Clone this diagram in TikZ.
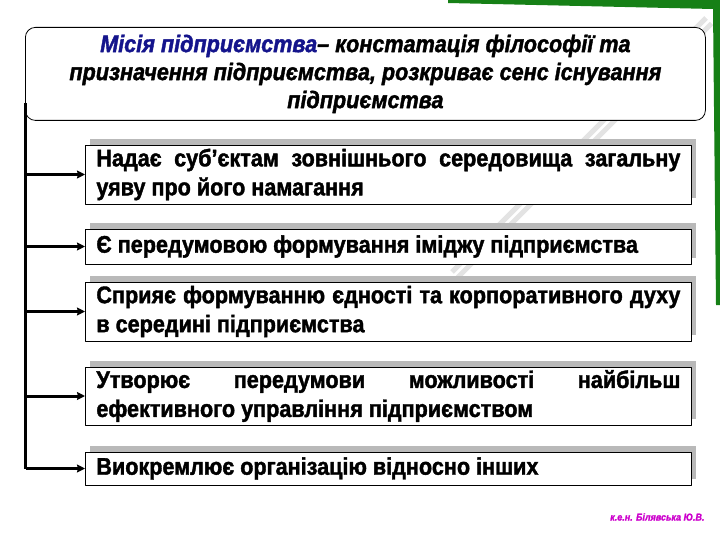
\documentclass[tikz,border=0pt]{standalone}
\usepackage{fontspec}
\setmainfont{Liberation Sans}[BoldFont={Liberation Sans Bold}, BoldItalicFont={Liberation Sans Bold Italic},
  FakeStretch=0.9, FakeBold=1.6]
\usetikzlibrary{shadows,arrows.meta}
\definecolor{misblue}{RGB}{20,20,140}
\definecolor{slidegreen}{RGB}{22,128,22}
\definecolor{authmag}{RGB}{204,0,204}
\tikzset{
  itembox/.style={draw, line width=0.8pt, fill=white, anchor=west,
    text width=584pt, inner xsep=11pt, inner ysep=2pt, align=justify,
    font=\fontsize{24}{29}\selectfont\bfseries,
    drop shadow={shadow xshift=5pt, shadow yshift=6pt, fill=gray!55, opacity=1}},
  conn/.style={line width=3pt, -{Stealth[length=8pt,width=8pt,inset=1pt]}},
  streak/.style={gray!22, line width=5pt}
}
\begin{document}
\begin{tikzpicture}[x=1pt,y=-1pt,line join=round]
  \useasboundingbox (0,0) rectangle (720,540);
  % background of the slide
  \foreach \s in {0,8}
    \draw[streak] (706+\s*0.7,18+\s*0.7) -- (452+\s*0.7,272+\s*0.7);
  \fill[slidegreen] (448,0) -- (720,0) -- (720,305) -- (716,305) -- (713,9) -- (448,3) -- cycle;
  % mission
  \node[draw, line width=0.8pt, fill=white, rounded corners=10pt, anchor=north west,
    minimum width=680pt, minimum height=93pt, align=center,
    font=\fontsize{24}{28}\selectfont\bfseries\itshape] (mission) at (25,27)
    {{\color{misblue}Місія підприємства}– констатація філософії та\\
     призначення підприємства, розкриває сенс існування\\
     підприємства};
  % functions
  \node[itembox, minimum height=59pt] (b1) at (85,174.5)
    {Надає суб’єктам зовнішнього середовища загальну\linebreak уяву про його намагання};
  \node[itembox, minimum height=35pt] (b2) at (85,246.5)
    {Є передумовою формування іміджу підприємства};
  \node[itembox, minimum height=59pt] (b3) at (85,311.5)
    {Сприяє формуванню єдності та корпоративного духу\linebreak в середині підприємства};
  \node[itembox, minimum height=58pt] (b4) at (85,396)
    {Утворює передумови можливості найбільш\linebreak ефективного управління підприємством};
  \node[itembox, minimum height=33pt] (b5) at (85,468.5)
    {Виокремлює організацію відносно інших};
  % connectors
  \coordinate (trunk) at (25.5,103);
  \draw[line width=3.4pt] (trunk) -- (trunk |- b5.west);
  \draw[conn] (trunk |- b5.west) -- (b5.west);
  \foreach \b in {b1,b2,b3,b4}
    \draw[conn] (trunk |- \b.west) -- (\b.west);
  \node[anchor=east, text=authmag, font=\fontsize{10}{12}\selectfont\bfseries\itshape]
    (author) at (708,517) {к.е.н. Білявська Ю.В.};
\end{tikzpicture}
\end{document}
